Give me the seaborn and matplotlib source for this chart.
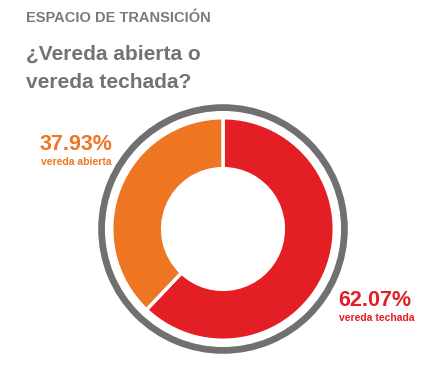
import matplotlib
matplotlib.use("Agg")
import matplotlib.pyplot as plt
import seaborn as sns

# datos
labels = ["vereda techada", "vereda abierta"]
values = [62.07, 37.93]
colors = ["#E31E24", "#EE7623"]

sns.set_style("white")
plt.rcParams["font.family"] = ["Liberation Sans", "DejaVu Sans"]

W, H = 423, 371
fig = plt.figure(figsize=(W / 100, H / 100), dpi=100)

# centro de la dona en píxeles (desde arriba)
cx, cy = 223, 229
half = 130
ax = fig.add_axes([(cx - half) / W, (H - cy - half) / H, 2 * half / W, 2 * half / H])
ax.set_xlim(-1.3, 1.3)
ax.set_ylim(-1.3, 1.3)
ax.set_aspect("equal")
ax.axis("off")

# anillo gris exterior
ax.pie([1], radius=1.20, colors=["#707070"], startangle=90,
       wedgeprops=dict(width=0.065, edgecolor="none"))

ax.pie(values, radius=1.07, colors=colors, startangle=90, counterclock=False,
       wedgeprops=dict(width=0.49, edgecolor="white", linewidth=2.5))

gray = "#737373"
fig.text(26 / W, 1 - 18 / H, "ESPACIO DE TRANSICIÓN", fontsize=10.5,
         fontweight="bold", color="#7a7a7a", va="center", ha="left")
fig.text(26 / W, 1 - 54 / H, "¿Vereda abierta o", fontsize=15,
         fontweight="bold", color=gray, va="center", ha="left")
fig.text(26 / W, 1 - 82 / H, "vereda techada?", fontsize=15,
         fontweight="bold", color=gray, va="center", ha="left")

fig.text(40 / W, 1 - 144 / H, f"{values[1]:.2f}%", fontsize=15.5,
         fontweight="bold", color=colors[1], va="center", ha="left")
fig.text(41 / W, 1 - 162 / H, labels[1], fontsize=7.5,
         fontweight="bold", color=colors[1], va="center", ha="left")

fig.text(338 / W, 1 - 300 / H, f"{values[0]:.2f}%", fontsize=15.5,
         fontweight="bold", color=colors[0], va="center", ha="left")
fig.text(339 / W, 1 - 318 / H, labels[0], fontsize=7.5,
         fontweight="bold", color=colors[0], va="center", ha="left")

fig.savefig("out.png", dpi=100, facecolor="white")
